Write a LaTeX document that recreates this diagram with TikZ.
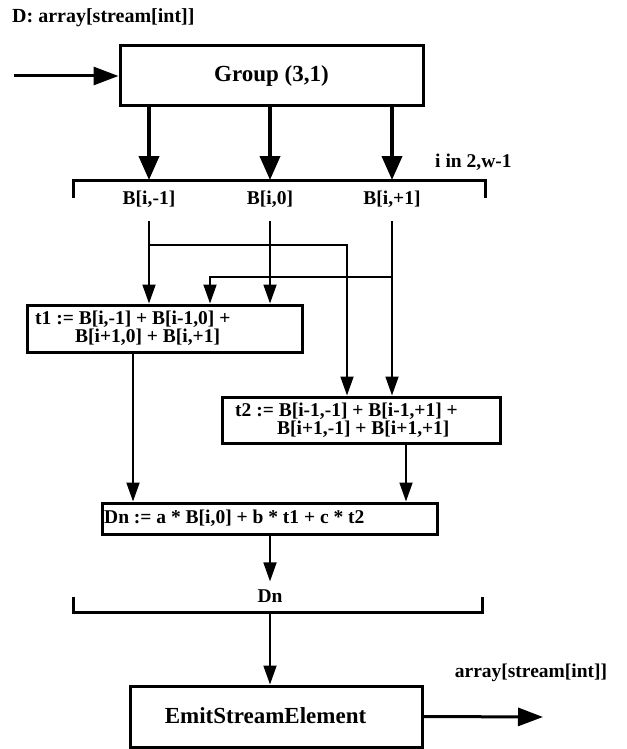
\documentclass[tikz,border=0pt]{standalone}
\usepackage{fontspec}
\setmainfont{Liberation Serif}
\usetikzlibrary{arrows.meta}
\begin{document}
\begin{tikzpicture}[x=1pt,y=-1pt,
  lbl/.style={font=\fontsize{19.5}{18.5}\selectfont\bfseries, inner sep=0pt},
  big/.style={font=\fontsize{23}{23}\selectfont\bfseries, inner sep=0pt},
  box/.style={draw, line width=3pt, inner sep=0pt},
  thinarrow/.style={line width=1.8pt, -{Triangle[length=19pt,width=13pt]}},
  thickarrow/.style={line width=4pt, -{Triangle[length=24pt,width=20pt]}},
  outarrow/.style={line width=3pt, -{Triangle[length=25pt,width=18pt]}},
  brk/.style={line width=3pt},
]
\useasboundingbox (0,0) rectangle (626,749);

% title and input
\node[lbl, font=\fontsize{20}{20}\selectfont\bfseries, anchor=west] (title) at (12,18) {D: array[stream[int]]};
\node[box, big, minimum width=303pt, minimum height=60pt] (group) at (271.5,76) {Group (3,1)};
\coordinate (in) at (14,76);
\draw[outarrow] (in) -- (group.west);

% first bracket
\node[lbl] (b1) at (149,199) {B[i,-1]};
\node[lbl] (b2) at (270,199) {B[i,0]};
\node[lbl] (b3) at (392,199) {B[i,+1]};
\node[lbl, anchor=west] (irange) at (435,162) {i in 2,w-1};
\coordinate (bline) at (0,180);
\draw[brk] (73,198) -- (73,180) -- (485,180) -- (485,198);
\draw[thickarrow] (group.south -| b1) -- (b1 |- bline);
\draw[thickarrow] (group.south -| b2) -- (b2 |- bline);
\draw[thickarrow] (group.south -| b3) -- (b3 |- bline);

% t1 and t2 boxes
\node[box, minimum width=275pt, minimum height=47pt] (t1) at (164.5,328.5) {};
\node[lbl, anchor=west, align=left] (t1txt) at (35,328) {t1 := B[i,-1] + B[i-1,0] +\\\hspace*{40pt}B[i+1,0] + B[i,+1]};
\node[box, minimum width=278pt, minimum height=46pt] (t2) at (361,420) {};
\node[lbl, anchor=west, align=left] (t2txt) at (235,420) {t2 := B[i-1,-1] + B[i-1,+1] +\\\hspace*{42pt}B[i+1,-1] + B[i+1,+1]};

% connectors from B labels
\draw[thinarrow, shorten <=14pt] (b1) -- (t1.north -| b1);
\draw[thinarrow, shorten <=14pt] (b2) -- (t1.north -| b2);
\draw[thinarrow, shorten <=14pt] (b3) -- (t2.north -| b3);
\coordinate (j1) at (149,245);
\coordinate (c2) at (347,0);
\draw[thinarrow] (j1) -| (t2.north -| c2);
\coordinate (j3) at (392,277);
\coordinate (c1) at (210,0);
\draw[thinarrow] (j3) -| (t1.north -| c1);

% Dn box
\node[box, minimum width=335pt, minimum height=31pt] (dn) at (269.5,518.5) {};
\node[lbl, anchor=west] (dntxt) at (104,518) {Dn := a * B[i,0] + b * t1 + c * t2};
\coordinate (c3) at (133,0);
\coordinate (c4) at (406,0);
\draw[thinarrow] (t1.south -| c3) -- (dn.north -| c3);
\draw[thinarrow] (t2.south -| c4) -- (dn.north -| c4);

% second bracket
\node[lbl] (dnl) at (270,596) {Dn};
\draw[thinarrow, shorten >=8pt] (dn.south -| dnl) -- (dnl.north);
\coordinate (bline2) at (0,612);
\draw[brk] (73,597) -- (73,612) -- (482,612) -- (482,597);

% emit
\node[box, minimum width=292pt, minimum height=61pt] (emit) at (276,716.5) {};
\node[big] (emittxt) at (265.5,716) {EmitStreamElement};
\draw[thinarrow] (dnl |- bline2) -- (emit.north -| dnl);
\coordinate (out) at (543,717);
\draw[outarrow] (emit.east) -- (out);
\node[lbl] (outl) at (531,673) {array[stream[int]]};
\end{tikzpicture}
\end{document}
